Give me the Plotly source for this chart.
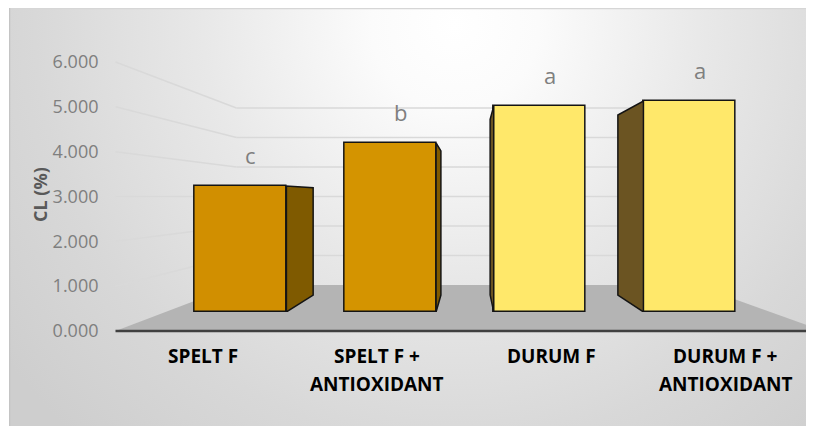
import base64
import plotly.graph_objects as go

# ---------------- data ----------------
categories = ["SPELT F", "SPELT F + ANTIOXIDANT", "DURUM F", "DURUM F + ANTIOXIDANT"]
category_lines = [["SPELT F"], ["SPELT F +", "ANTIOXIDANT"], ["DURUM F"], ["DURUM F +", "ANTIOXIDANT"]]
cl_values = [3.27, 4.39, 5.35, 5.48]
letters = ["c", "b", "a", "a"]
y_ticks = [0, 1, 2, 3, 4, 5, 6]
y_tick_labels = ["0.000", "1.000", "2.000", "3.000", "4.000", "5.000", "6.000"]
y_title = "CL (%)"

# ---------------- styles ----------------
front_colors = ["#D18F00", "#D49400", "#FFE86A", "#FFE86A"]
side_colors = ["#7F5A00", "#7F5A00", "#6B5422", "#6B5422"]
outline = "#141414"

W, H = 814, 426
OX, OY = 8, 8                      # page offset of the figure (body margin)
# perspective scene (page pixels)
VPX, VPY = 469.0, 196.5          # vanishing point
FRONT_L, FRONT_R = 115.5, 813.0  # front edge of floor
FRONT_Y0, FRONT_YTOP = 331.0, 62.0
D_WALL, D_BAR_FRONT, D_BAR_BACK = 1.52, 1.165, 1.365
BAR_PX = 92.0


def proj(px, py, d):
    return VPX + (px - VPX) / d, VPY + (py - VPY) / d


def fx(px):
    return (px - OX) / W


def fy(py):
    return 1 - (py - OY) / H


ymax = y_ticks[-1]
front_scale = (FRONT_Y0 - FRONT_YTOP) / ymax


def y_front(v):
    return FRONT_Y0 - v * front_scale


# bar plane axes (x2 / y2)
L2 = proj(FRONT_L, FRONT_Y0, D_BAR_FRONT)[0]
R2 = proj(FRONT_R, FRONT_Y0, D_BAR_FRONT)[0]
B2 = proj(FRONT_L, FRONT_Y0, D_BAR_FRONT)[1]
T2 = proj(FRONT_L, FRONT_YTOP, D_BAR_FRONT)[1]
step2 = (R2 - L2) / len(categories)
scale2 = (B2 - T2) / ymax
bar_w = BAR_PX / step2
vx = (VPX - L2) / step2 - 0.5
vy = (B2 - VPY) / scale2
kback = D_BAR_FRONT / D_BAR_BACK

fig = go.Figure()

# side faces
for i, v in enumerate(cl_values):
    xe = i + bar_w / 2 if i < vx else i - bar_w / 2
    xb = vx + (xe - vx) * kback
    xs = [xe, xe, xb, xb, xe]
    ys = [0, v, vy + (v - vy) * kback, vy + (0 - vy) * kback, 0]
    fig.add_trace(go.Scatter(
        x=xs, y=ys, mode="lines", fill="toself", fillcolor=side_colors[i],
        line=dict(color=outline, width=1.5), xaxis="x2", yaxis="y2",
        hoverinfo="skip", showlegend=False))

# front faces
fig.add_trace(go.Bar(
    x=list(range(len(categories))), y=cl_values, width=bar_w,
    marker=dict(color=front_colors, line=dict(color=outline, width=1.5)),
    xaxis="x2", yaxis="y2", showlegend=False, hovertext=categories))

shapes = []
# floor
fl = (FRONT_L, FRONT_Y0)
fr = (FRONT_R + 10, FRONT_Y0)
bl = proj(FRONT_L, FRONT_Y0, D_WALL)
br = proj(FRONT_R, FRONT_Y0, D_WALL)
path = "M {} {} L {} {} L {} {} L {} {} Z".format(
    fx(fl[0]), fy(fl[1]), fx(fr[0]), fy(fr[1]), fx(br[0]), fy(br[1]), fx(bl[0]), fy(bl[1]))
shapes.append(dict(type="path", path=path, xref="paper", yref="paper",
                   fillcolor="#B4B4B4", line=dict(width=0), layer="below"))
# gridlines (back and left wall)
for t in y_ticks[1:]:
    yf = y_front(t)
    a = proj(FRONT_L, yf, D_WALL)
    b = proj(FRONT_R, yf, D_WALL)
    shapes.append(dict(type="line", xref="paper", yref="paper",
                       x0=fx(FRONT_L), y0=fy(yf), x1=fx(a[0]), y1=fy(a[1]),
                       line=dict(color="#D9D9D9", width=1.5), layer="below"))
    shapes.append(dict(type="line", xref="paper", yref="paper",
                       x0=fx(a[0]), y0=fy(a[1]), x1=fx(b[0]), y1=fy(b[1]),
                       line=dict(color="#D9D9D9", width=1.5), layer="below"))
# category axis line
shapes.append(dict(type="line", xref="paper", yref="paper",
                   x0=fx(FRONT_L), y0=fy(FRONT_Y0), x1=1, y1=fy(FRONT_Y0),
                   line=dict(color="#404040", width=2.5), layer="below"))

annotations = []
for i, v in enumerate(cl_values):
    annotations.append(dict(x=i + 0.07, y=v, xref="x2", yref="y2", text=letters[i],
                            showarrow=False, xanchor="center", yanchor="middle", yshift=31,
                            font=dict(family="Open Sans", size=22, color="#7F7F7F")))
for i, lines in enumerate(category_lines):
    for j, txt in enumerate(lines):
        annotations.append(dict(x=i, y=fy(356 + 28 * j), xref="x", yref="paper", text=txt,
                                showarrow=False, xanchor="center", yanchor="middle",
                                font=dict(family="Open Sans", size=19, color="#000000", weight="bold")))
annotations.append(dict(x=fx(40), y=fy(195), xref="paper", yref="paper", text=y_title,
                        textangle=-90, showarrow=False, xanchor="center", yanchor="middle",
                        font=dict(family="Open Sans", size=18, color="#595959", weight="bold")))

# background gradient (chart area)
bx0, by0 = 9, 8
bw, bh = W + OX - bx0, H + OY - by0
cx, cy = 455 - bx0, 25 - by0
svg = ('<svg xmlns="http://www.w3.org/2000/svg" width="{w}" height="{h}" viewBox="0 0 {w} {h}" '
       'preserveAspectRatio="none"><defs><radialGradient id="g" cx="{cx}" cy="{cy}" r="560" '
       'gradientUnits="userSpaceOnUse"><stop offset="0" stop-color="#ffffff"/>'
       '<stop offset="0.15" stop-color="#fbfbfb"/><stop offset="0.45" stop-color="#e8e8e8"/>'
       '<stop offset="0.75" stop-color="#d8d8d8"/><stop offset="1" stop-color="#cecece"/>'
       '</radialGradient></defs><rect x="0" y="0" width="{w}" height="{h}" fill="url(#g)"/>'
       '<line x1="0" y1="0.5" x2="{w}" y2="0.5" stroke="#d6d6d6" stroke-width="1.5"/>'
       '<line x1="0.5" y1="0" x2="0.5" y2="{h}" stroke="#c4c4c4" stroke-width="1.5"/>'
       '</svg>').format(w=bw, h=bh, cx=cx, cy=cy)
src = "data:image/svg+xml;base64," + base64.b64encode(svg.encode()).decode()

fig.update_layout(
    width=W, height=H, margin=dict(l=0, r=0, t=0, b=0, pad=0, autoexpand=False),
    paper_bgcolor="white", plot_bgcolor="rgba(0,0,0,0)",
    showlegend=False, bargap=0,
    images=[dict(source=src, xref="paper", yref="paper", x=fx(bx0), y=fy(by0),
                 sizex=bw / W, sizey=bh / H, sizing="stretch", xanchor="left",
                 yanchor="top", layer="below")],
    shapes=shapes, annotations=annotations,
    xaxis=dict(domain=[fx(FRONT_L), fx(FRONT_R)], range=[-0.5, len(categories) - 0.5],
               visible=False, anchor="y"),
    yaxis=dict(domain=[fy(FRONT_Y0), fy(FRONT_YTOP)], range=[0, ymax], anchor="free",
               position=fx(FRONT_L), tickvals=y_ticks, ticktext=y_tick_labels,
               showgrid=False, zeroline=False, showline=False, ticks="",
               ticklabelstandoff=17, automargin=False,
               tickfont=dict(family="Open Sans", size=18, color="#7F7F7F")),
    xaxis2=dict(domain=[fx(L2), fx(R2)], range=[-0.5, len(categories) - 0.5],
                visible=False, anchor="y2"),
    yaxis2=dict(domain=[fy(B2), fy(T2)], range=[0, ymax], visible=False, anchor="x2"),
)

fig.write_html("out.html")
